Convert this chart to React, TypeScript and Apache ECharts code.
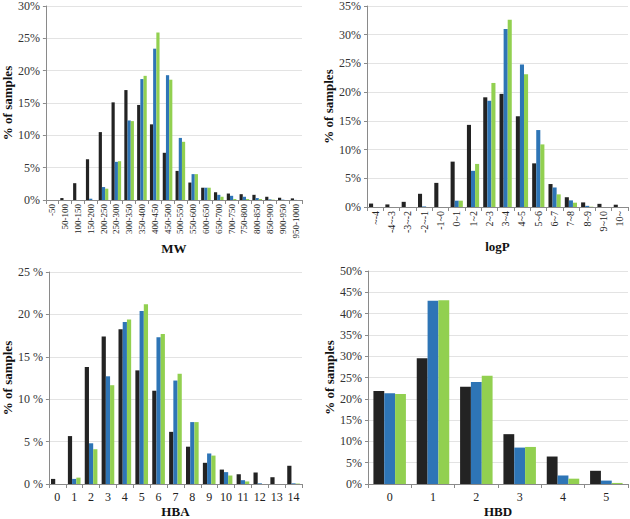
import React, { useEffect, useRef } from "react";
import * as echarts from "echarts";

const mwCategories = ["-50", "50-100", "100-150", "150-200", "200-250", "250-300", "300-350", "350-400", "400-450", "450-500", "500-550", "550-600", "600-650", "650-700", "700-750", "750-800", "800-850", "850-900", "900-950", "950-1000"];
const mwBlack = [0, 0.3, 2.6, 6.3, 10.5, 15.1, 17.0, 14.7, 11.7, 7.3, 4.5, 2.7, 1.9, 1.2, 1.0, 0.9, 0.8, 0.5, 0.35, 0.25];
const mwBlue = [0, 0, 0, 0.2, 2.0, 5.9, 12.3, 18.7, 23.4, 19.3, 9.6, 4.0, 1.9, 0.8, 0.65, 0.5, 0.3, 0.1, 0.05, 0.02];
const mwGreen = [0, 0, 0, 0, 1.75, 6.0, 12.2, 19.2, 25.9, 18.6, 9.0, 4.0, 1.9, 0.5, 0.15, 0.15, 0.15, 0.05, 0, 0];

const logpCategories = ["~-4", "-4~-3", "-3~-2", "-2~-1", "-1~0", "0~1", "1~2", "2~3", "3~4", "4~5", "5~6", "6~7", "7~8", "8~9", "9~10", "10~"];
const logpBlack = [0.6, 0.45, 0.9, 2.3, 4.2, 7.9, 14.3, 19.1, 19.7, 15.8, 7.6, 4.0, 1.7, 0.8, 0.55, 0.4];
const logpBlue = [0, 0, 0, 0.1, 0, 1.1, 6.3, 18.5, 31.0, 24.8, 13.4, 3.4, 1.15, 0.2, 0, 0];
const logpGreen = [0, 0, 0, 0, 0, 1.1, 7.5, 21.6, 32.6, 23.1, 10.9, 2.2, 0.75, 0.05, 0, 0];

const hbaCategories = ["0", "1", "2", "3", "4", "5", "6", "7", "8", "9", "10", "11", "12", "13", "14"];
const hbaBlack = [0.6, 5.65, 13.8, 17.4, 18.25, 13.4, 11.0, 6.15, 4.4, 2.5, 1.7, 1.15, 1.35, 0.8, 2.15];
const hbaBlue = [0, 0.6, 4.8, 12.7, 19.1, 20.4, 17.3, 12.2, 7.3, 3.6, 1.4, 0.45, 0.08, 0, 0.08];
const hbaGreen = [0, 0.75, 4.1, 11.65, 19.4, 21.2, 17.7, 13.0, 7.3, 3.35, 1.0, 0.3, 0, 0, 0.05];

const hbdCategories = ["0", "1", "2", "3", "4", "5"];
const hbdBlack = [21.85, 29.5, 22.8, 11.7, 6.45, 3.1];
const hbdBlue = [21.3, 43.0, 23.95, 8.55, 2.0, 0.8];
const hbdGreen = [21.1, 43.15, 25.4, 8.7, 1.25, 0.25];

const panelNames = ["MW", "logP", "HBA", "HBD"];
const yMax = [30, 35, 25, 50];
const yName = "% of samples";

const COLORS = ["#232323", "#2e75b6", "#92d050"];
const FONT = "Liberation Serif";

export default function App() {
  const ref = useRef<HTMLDivElement>(null);
  useEffect(() => {
    if (!ref.current) return;
    const chart = echarts.init(ref.current, null, { renderer: "svg" });
    const grids = [
      { left: 43, top: 5, width: 259, height: 195 },
      { left: 367, top: 5, width: 261, height: 202 },
      { left: 45, top: 272, width: 257, height: 213 },
      { left: 368, top: 271, width: 260, height: 214 },
    ];
    const cats = [mwCategories, logpCategories, hbaCategories, hbdCategories];
    const data = [
      [mwBlack, mwBlue, mwGreen],
      [logpBlack, logpBlue, logpGreen],
      [hbaBlack, hbaBlue, hbaGreen],
      [hbdBlack, hbdBlue, hbdGreen],
    ];
    const xLabelSize = [9, 10, 12, 12];
    const xRotate = [90, 90, 0, 0];
    const xNameGap = [40, 33, 21, 21];
    const yNameGap = [30, 27, 33, 28];
    const xAxis = cats.map((c, i) => ({
      type: "category",
      gridIndex: i,
      data: c,
      name: panelNames[i],
      nameLocation: "middle",
      nameGap: xNameGap[i],
      nameTextStyle: { fontFamily: FONT, fontWeight: "bold", fontSize: 13, color: "#111" },
      axisLine: { lineStyle: { color: "#8a8a8a" } },
      axisTick: { show: true, alignWithLabel: false, length: 4, lineStyle: { color: "#8a8a8a" } },
      axisLabel: {
        interval: 0,
        rotate: xRotate[i],
        fontFamily: FONT,
        fontSize: xLabelSize[i],
        color: "#222",
        margin: xRotate[i] ? 4 : 7,
      },
    }));
    const yAxis = yMax.map((m, i) => ({
      type: "value",
      gridIndex: i,
      min: 0,
      max: m,
      interval: 5,
      name: yName,
      nameLocation: "middle",
      nameGap: yNameGap[i],
      nameTextStyle: { fontFamily: FONT, fontWeight: "bold", fontSize: 13, color: "#111" },
      axisLine: { show: true, lineStyle: { color: "#8a8a8a" } },
      axisTick: { show: true, length: 3, lineStyle: { color: "#8a8a8a" } },
      splitLine: { lineStyle: { color: "#e3e3e3" } },
      axisLabel: {
        fontFamily: FONT,
        fontSize: 12,
        color: "#333",
        margin: 6,
        formatter: i === 2 ? "{value} %" : "{value}%",
      },
    }));
    const series: any[] = [];
    data.forEach((group, i) => {
      group.forEach((vals, k) => {
        series.push({
          type: "bar",
          xAxisIndex: i,
          yAxisIndex: i,
          data: vals,
          barGap: "0%",
          barCategoryGap: "25%",
          itemStyle: { color: COLORS[k] },
        });
      });
    });
    chart.setOption({
      animation: false,
      backgroundColor: "#fff",
      grid: grids,
      xAxis,
      yAxis,
      series,
    });
    return () => chart.dispose();
  }, []);
  return (
    <div
      ref={ref}
      style={{ position: "fixed", left: 0, top: 0, width: 630, height: 519 }}
    />
  );
}
